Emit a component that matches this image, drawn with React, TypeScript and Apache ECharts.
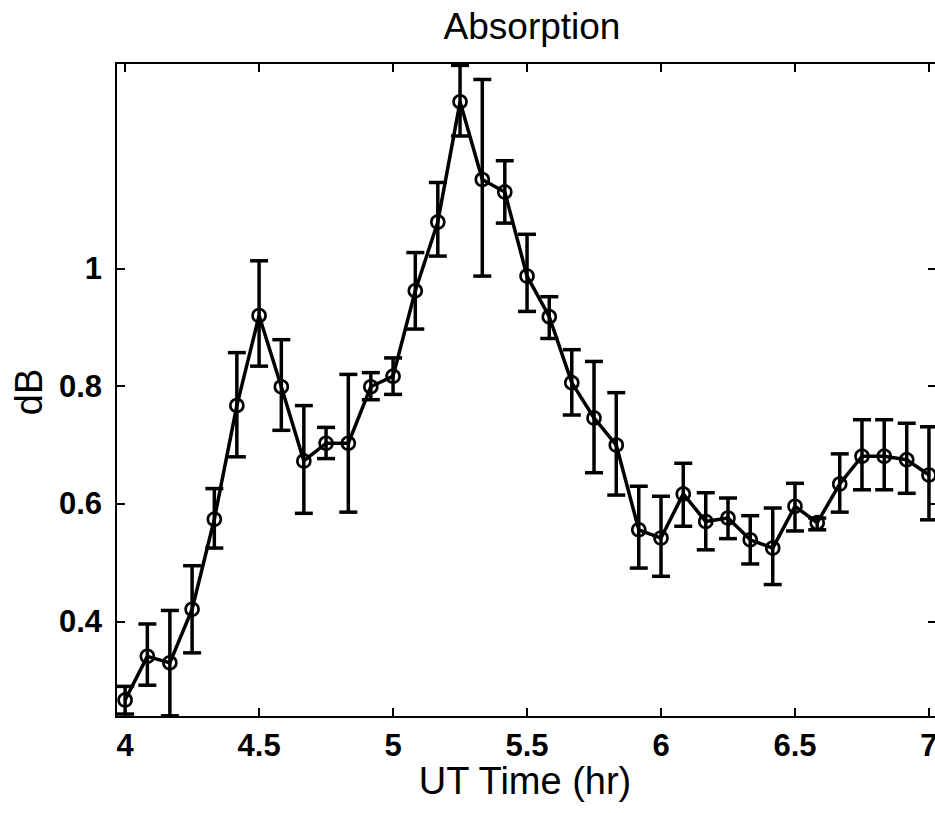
import React, { useEffect, useRef } from "react";
import * as echarts from "echarts";

const times = [
  4.0, 4.083, 4.167, 4.25, 4.333, 4.417, 4.5, 4.583, 4.667, 4.75, 4.833, 4.917,
  5.0, 5.083, 5.167, 5.25, 5.333, 5.417, 5.5, 5.583, 5.667, 5.75, 5.833, 5.917,
  6.0, 6.083, 6.167, 6.25, 6.333, 6.417, 6.5, 6.583, 6.667, 6.75, 6.833, 6.917, 7.0,
];
const absorption = [
  0.267, 0.341, 0.33, 0.421, 0.574, 0.767, 0.92, 0.799, 0.673, 0.703, 0.703, 0.799,
  0.817, 0.962, 1.079, 1.283, 1.151, 1.13, 0.987, 0.918, 0.806, 0.746, 0.7, 0.556,
  0.542, 0.617, 0.57, 0.576, 0.539, 0.525, 0.596, 0.568, 0.634, 0.681, 0.681, 0.675, 0.649,
];
const barTop = [
  0.29, 0.396, 0.419, 0.495, 0.626, 0.857, 1.013, 0.879, 0.767, 0.73, 0.82, 0.823,
  0.848, 1.027, 1.146, 1.345, 1.321, 1.183, 1.058, 0.952, 0.862, 0.842, 0.789, 0.63,
  0.613, 0.669, 0.619, 0.61, 0.58, 0.593, 0.635, 0.576, 0.685, 0.743, 0.743, 0.737, 0.731,
];
const barBottom = [
  0.243, 0.292, 0.24, 0.347, 0.525, 0.68, 0.834, 0.725, 0.584, 0.677, 0.586, 0.777,
  0.786, 0.897, 1.021, 1.225, 0.987, 1.077, 0.927, 0.881, 0.751, 0.653, 0.615, 0.491,
  0.477, 0.562, 0.522, 0.541, 0.498, 0.463, 0.554, 0.556, 0.586, 0.624, 0.624, 0.618, 0.573,
];
const xTicks = [4, 4.5, 5, 5.5, 6, 6.5, 7];
const yTicks = [0.4, 0.6, 0.8, 1];

const FONT = "'Liberation Sans', Arial, Helvetica, sans-serif";

export default function App() {
  const ref = useRef<HTMLDivElement>(null);
  useEffect(() => {
    if (!ref.current) return;
    const chart = echarts.init(ref.current, null, { renderer: "svg" });
    const lineData = times.map((t, i) => [t, absorption[i]]);
    const errData = times.map((t, i) => [t, barBottom[i], barTop[i]]);
    const axisLine = { show: true, lineStyle: { color: "#000", width: 2 } };
    const tickStyle = { color: "#000", width: 2 };
    const option: any = {
      animation: false,
      backgroundColor: "#fff",
      grid: {
        left: 116,
        top: 63,
        width: 821,
        height: 654,
        containLabel: false,
        outerBoundsMode: "none",
      },
      xAxis: [
        {
          type: "value",
          min: 3.966,
          max: 7.03,
          position: "bottom",
          axisLine,
          splitLine: { show: false },
          axisTick: { show: true, inside: true, length: 9, lineStyle: tickStyle, customValues: xTicks },
          axisLabel: {
            customValues: xTicks,
            margin: 13,
            fontSize: 31,
            fontFamily: FONT,
            fontWeight: "bold",
            color: "#000",
            formatter: (v: number) => String(v),
          },
        },
        {
          type: "value",
          min: 3.966,
          max: 7.03,
          position: "top",
          axisLine,
          splitLine: { show: false },
          axisTick: { show: true, inside: true, length: 9, lineStyle: tickStyle, customValues: xTicks },
          axisLabel: { show: false },
        },
      ],
      yAxis: [
        {
          type: "value",
          min: 0.238,
          max: 1.349,
          position: "left",
          axisLine,
          splitLine: { show: false },
          axisTick: { show: true, inside: true, length: 9, lineStyle: tickStyle, customValues: yTicks },
          axisLabel: {
            customValues: yTicks,
            margin: 14,
            fontSize: 31,
            fontFamily: FONT,
            fontWeight: "bold",
            color: "#000",
            formatter: (v: number) => String(Math.round(v * 10) / 10),
          },
        },
        {
          type: "value",
          min: 0.238,
          max: 1.349,
          position: "right",
          axisLine,
          splitLine: { show: false },
          axisTick: { show: true, inside: true, length: 9, lineStyle: tickStyle, customValues: yTicks },
          axisLabel: { show: false },
        },
      ],
      graphic: [
        {
          type: "text",
          x: 532,
          y: 26,
          style: {
            text: "Absorption",
            fontSize: 37,
            fontFamily: FONT,
            fill: "#000",
            align: "center",
            verticalAlign: "middle",
          },
        },
        {
          type: "text",
          x: 525,
          y: 781,
          style: {
            text: "UT Time (hr)",
            fontSize: 38,
            fontFamily: FONT,
            fill: "#000",
            align: "center",
            verticalAlign: "middle",
          },
        },
        {
          type: "text",
          x: 29,
          y: 392,
          rotation: Math.PI / 2,
          style: {
            text: "dB",
            fontSize: 38,
            fontFamily: FONT,
            fill: "#000",
            align: "center",
            verticalAlign: "middle",
          },
        },
      ],
      series: [
        {
          type: "custom",
          xAxisIndex: 0,
          yAxisIndex: 0,
          clip: true,
          data: errData,
          encode: { x: 0, y: [1, 2] },
          renderItem: (params: any, api: any) => {
            const x = api.value(0);
            const lo = api.coord([x, api.value(1)]);
            const hi = api.coord([x, api.value(2)]);
            const w = 9;
            const st = { stroke: "#000", lineWidth: 3.5 };
            return {
              type: "group",
              children: [
                { type: "line", shape: { x1: lo[0], y1: lo[1], x2: hi[0], y2: hi[1] }, style: st },
                { type: "line", shape: { x1: lo[0] - w, y1: lo[1], x2: lo[0] + w, y2: lo[1] }, style: st },
                { type: "line", shape: { x1: hi[0] - w, y1: hi[1], x2: hi[0] + w, y2: hi[1] }, style: st },
              ],
            };
          },
          z: 2,
        },
        {
          type: "line",
          xAxisIndex: 0,
          yAxisIndex: 0,
          data: lineData,
          symbol: "circle",
          symbolSize: 13,
          showSymbol: true,
          clip: true,
          lineStyle: { color: "#000", width: 3.5 },
          itemStyle: { color: "rgba(255,255,255,0)", borderColor: "#000", borderWidth: 2.6 },
          z: 3,
        },
      ],
    };
    chart.setOption(option);
    return () => chart.dispose();
  }, []);
  return (
    <div
      ref={ref}
      style={{ position: "absolute", left: 0, top: 0, width: 935, height: 813, background: "#fff" }}
    />
  );
}
